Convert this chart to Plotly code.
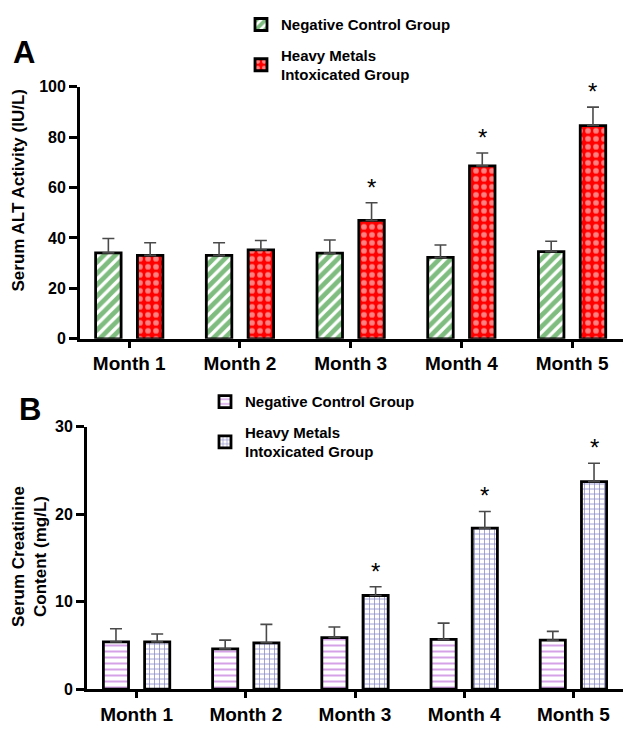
import plotly.graph_objects as go

months = ["Month 1", "Month 2", "Month 3", "Month 4", "Month 5"]

# Panel A: Serum ALT activity (IU/L)
alt_control = [34.1, 33.1, 34.0, 32.3, 34.6]
alt_control_err = [5.7, 5.0, 5.2, 4.9, 4.1]
alt_metals = [33.1, 35.3, 47.0, 68.6, 84.6]
alt_metals_err = [5.0, 3.7, 7.0, 5.1, 7.3]

# Panel B: Serum creatinine content (mg/L)
cre_control = [5.4, 4.6, 5.9, 5.7, 5.6]
cre_control_err = [1.5, 1.0, 1.2, 1.85, 1.0]
cre_metals = [5.4, 5.3, 10.7, 18.4, 23.7]
cre_metals_err = [0.9, 2.1, 1.0, 1.9, 2.1]

significant = [False, False, True, True, True]

name_control = "Negative Control Group"
name_metals = "Heavy Metals<br>Intoxicated Group"

FONT = "Liberation Sans, Arial, sans-serif"
BARGAP = 0.245
BARGROUPGAP = 0.39

# page is 631x733; the browser adds an 8px body margin around the figure
OFF = 8
W, H = 631 - 2 * OFF, 733 - 2 * OFF


def px(x):
    return (x - OFF) / W


def py(y):
    return 1 - (y - OFF) / H


def err(vals):
    return dict(type="data", array=vals, arrayminus=[0] * len(vals), symmetric=False,
                color="#4a4a4a", thickness=1.6, width=6)


fig = go.Figure()

fig.add_trace(go.Bar(
    x=months, y=alt_control, name=name_control, xaxis="x", yaxis="y", legend="legend", legendgroup="a1",
    marker=dict(color="white", line=dict(color="black", width=2.8),
                pattern=dict(shape="/", fgcolor="#007a00", bgcolor="white", size=8, solidity=0.6)),
    error_y=err(alt_control_err)))
fig.add_trace(go.Bar(
    x=months, y=alt_metals, name=name_metals, xaxis="x", yaxis="y", legend="legend", legendgroup="a2",
    marker=dict(color="#ff0000", line=dict(color="black", width=2.8),
                pattern=dict(shape=".", fgcolor="white", bgcolor="#ff0000", size=8, solidity=0.4)),
    error_y=err(alt_metals_err)))
fig.add_trace(go.Bar(
    x=months, y=cre_control, name=name_control, xaxis="x2", yaxis="y2", legend="legend2", legendgroup="b1",
    marker=dict(color="white", line=dict(color="black", width=2.8),
                pattern=dict(shape="-", fgcolor="#a22fcc", bgcolor="white", size=6, solidity=0.3)),
    error_y=err(cre_control_err)))
fig.add_trace(go.Bar(
    x=months, y=cre_metals, name=name_metals, xaxis="x2", yaxis="y2", legend="legend2", legendgroup="b2",
    marker=dict(color="white", line=dict(color="black", width=2.8),
                pattern=dict(shape="+", fgcolor="#1c1c96", bgcolor="white", size=5, solidity=0.3)),
    error_y=err(cre_metals_err)))

offset = (1 - BARGAP) / 4
annotations = []
for i, sig in enumerate(significant):
    if sig:
        annotations.append(dict(x=i + offset, y=alt_metals[i] + alt_metals_err[i], xref="x", yref="y",
                                text="*", showarrow=False, xanchor="center", yanchor="bottom",
                                font=dict(family=FONT, size=24, color="black")))
        annotations.append(dict(x=i + offset, y=cre_metals[i] + cre_metals_err[i], xref="x2", yref="y2",
                                text="*", showarrow=False, xanchor="center", yanchor="bottom",
                                font=dict(family=FONT, size=24, color="black")))

annotations += [
    dict(text="<b>A</b>", x=px(24), y=py(46), xref="paper", yref="paper", showarrow=False,
         xanchor="center", yanchor="middle", font=dict(family=FONT, size=31, color="black")),
    dict(text="<b>B</b>", x=px(30), y=py(414), xref="paper", yref="paper", showarrow=False,
         xanchor="center", yanchor="middle", font=dict(family=FONT, size=31, color="black")),
    dict(text="<b>Serum ALT Activity (IU/L)</b>", x=px(18), y=py(188), xref="paper", yref="paper",
         showarrow=False, textangle=-90, xanchor="center", yanchor="middle",
         font=dict(family=FONT, size=17, color="black")),
    dict(text="<b>Serum Creatinine<br>Content (mg/L)</b>", x=px(30), y=py(566), xref="paper",
         yref="paper", showarrow=False, textangle=-90, xanchor="center", yanchor="middle",
         font=dict(family=FONT, size=17, color="black")),
]

line_common = dict(showline=True, linecolor="black", linewidth=2.8, ticks="outside", tickcolor="black",
                   tickwidth=2.6, showgrid=False, zeroline=False)
ytick_font = dict(family=FONT, size=16, color="black", weight="bold")
xtick_font = dict(family=FONT, size=19, color="black", weight="bold")
legend_font = dict(family=FONT, size=15, color="black", weight="bold")

fig.update_layout(
    width=W, height=H, margin=dict(l=0, r=0, t=0, b=0),
    plot_bgcolor="white", paper_bgcolor="white",
    barmode="group", bargap=BARGAP, bargroupgap=BARGROUPGAP,
    font=dict(family=FONT, color="black"),
    xaxis=dict(domain=[px(80), 1], range=[-0.445, 4.46], anchor="y", ticklen=6,
               tickfont=xtick_font, **line_common),
    yaxis=dict(domain=[py(341), py(81)], range=[0, 100], anchor="x", dtick=20, ticklen=8,
               tickfont=ytick_font, **line_common),
    xaxis2=dict(domain=[px(87), 1], range=[-0.454, 4.454], anchor="y2", ticklen=6,
                tickfont=xtick_font, **line_common),
    yaxis2=dict(domain=[py(702.5), py(431.5)], range=[0, 30], anchor="x2", dtick=10, ticklen=8,
                tickfont=ytick_font, **line_common),
    legend=dict(x=px(241), y=py(0), xanchor="left", yanchor="top", bgcolor="rgba(0,0,0,0)",
                font=legend_font, tracegroupgap=8),
    legend2=dict(x=px(205), y=py(389), xanchor="left", yanchor="top", bgcolor="rgba(0,0,0,0)",
                 font=legend_font, tracegroupgap=8),
    annotations=annotations,
    showlegend=True,
)

fig.write_html("out.html", config={"displayModeBar": False})
